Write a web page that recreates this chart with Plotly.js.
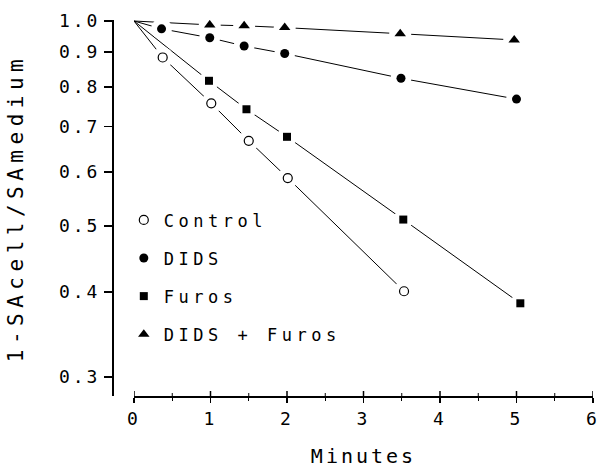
<!DOCTYPE html>
<html>
<head>
<meta charset="utf-8">
<script src="https://cdn.plot.ly/plotly-3.0.1.min.js"></script>
<style>
html,body{margin:0;padding:0;background:#fff;}
#chart{width:600px;height:471px;}
.main-svg text{letter-spacing:3px;}
.main-svg .g-ytitle text{letter-spacing:5.5px;}
.main-svg .legend text{letter-spacing:4.5px;}
.main-svg .legend .scrollbox{clip-path:none !important;}
.main-svg .legend{clip-path:none !important;}
</style>
</head>
<body>
<div id="chart"></div>
<script>
// Data
const seriesNames = ["Control", "DIDS", "Furos", "DIDS + Furos"];
const controlX = [0.375, 1.01, 1.5, 2.01, 3.53];
const controlY = [0.884, 0.757, 0.667, 0.588, 0.401];
const didsX = [0.36, 0.99, 1.44, 1.97, 3.49, 5.0];
const didsY = [0.974, 0.945, 0.919, 0.896, 0.824, 0.768];
const furosX = [0.98, 1.47, 2.0, 3.52, 5.05];
const furosY = [0.817, 0.742, 0.676, 0.511, 0.385];
const comboX = [0.99, 1.44, 1.97, 3.48, 4.97];
const comboY = [0.987, 0.984, 0.978, 0.958, 0.938];
const startX = 0;
const startY = 1.0;
const yTickVals = [0.3, 0.4, 0.5, 0.6, 0.7, 0.8, 0.9, 1.0];
const yTickText = ["0.3", "0.4", "0.5", "0.6", "0.7", "0.8", "0.9", "1.0"];
const xTickVals = [0, 1, 2, 3, 4, 5, 6];
const xTickText = ["0", "1", "2", "3", "4", "5", "6"];

const FONT = "DejaVu Sans Mono, Liberation Mono, monospace";
const series = [
  {name: seriesNames[0], x: controlX, y: controlY, symbol: "circle-open", size: 9},
  {name: seriesNames[1], x: didsX, y: didsY, symbol: "circle", size: 9},
  {name: seriesNames[2], x: furosX, y: furosY, symbol: "square", size: 8},
  {name: seriesNames[3], x: comboX, y: comboY, symbol: "triangle-up", size: 10}
];

const traces = [];
// connecting lines (from origin point)
series.forEach(s => {
  traces.push({
    type: "scatter", mode: "lines",
    x: [startX].concat(s.x), y: [startY].concat(s.y),
    line: {color: "#000", width: 1},
    showlegend: false, hoverinfo: "skip"
  });
});
// white halos to create gaps around markers
series.forEach(s => {
  traces.push({
    type: "scatter", mode: "markers",
    x: s.x, y: s.y,
    marker: {symbol: "circle", size: s.size + 12, color: "#fff", line: {width: 0}},
    showlegend: false, hoverinfo: "skip"
  });
});
// markers
series.forEach((s, i) => {
  traces.push({
    type: "scatter", mode: "markers",
    name: s.name, legendgroup: "g" + i,
    x: s.x, y: s.y,
    marker: {symbol: s.symbol, size: s.size, color: "#000",
             line: {color: "#000", width: s.symbol === "circle-open" ? 1.2 : 0}},
    showlegend: true
  });
});

// upper halves of the crossing x ticks (the axis draws the lower halves)
const shapes = [];
xTickVals.forEach((v, i) => {
  shapes.push({type: "line", xref: "x", yref: "paper", ysizemode: "pixel", yanchor: 0,
    x0: v, x1: v, y0: 0, y1: 5, line: {color: "#000", width: 1.5}});
  if (i < xTickVals.length - 1) {
    const m = (v + xTickVals[i + 1]) / 2;
    shapes.push({type: "line", xref: "x", yref: "paper", ysizemode: "pixel", yanchor: 0,
      x0: m, x1: m, y0: 0, y1: 3, line: {color: "#000", width: 1}});
  }
});

const layout = {
  width: 600, height: 471,
  margin: {l: 113, r: 7, t: 20, b: 75},
  paper_bgcolor: "#fff", plot_bgcolor: "#fff",
  showlegend: true,
  shapes: shapes,
  legend: {
    x: 0.0225, y: 0.515, xanchor: "left", yanchor: "top",
    font: {family: FONT, size: 17, color: "#000"},
    tracegroupgap: 13, itemwidth: 30,
    bgcolor: "rgba(0,0,0,0)"
  },
  xaxis: {
    domain: [0.04375, 1],
    range: [0, 6],
    tickvals: xTickVals, ticktext: xTickText,
    ticks: "outside", ticklen: 5, tickwidth: 1.5, tickcolor: "#000",
    minor: {dtick: 0.5, ticks: "outside", ticklen: 3, tickcolor: "#000", tickwidth: 1},
    showline: true, linecolor: "#000", linewidth: 2,
    showgrid: false, zeroline: false,
    tickfont: {family: FONT, size: 18, color: "#000"},
    automargin: "bottom",
    title: {text: "Minutes", font: {family: FONT, size: 20, color: "#000"}, standoff: 21},
    fixedrange: true
  },
  yaxis: {
    type: "log",
    range: [-0.5507, 0.0015],
    anchor: "free", position: 0,
    tickvals: yTickVals, ticktext: yTickText,
    ticks: "outside", ticklen: 8, tickwidth: 1.5, tickcolor: "#000",
    showline: true, linecolor: "#000", linewidth: 2,
    showgrid: false, zeroline: false,
    tickfont: {family: FONT, size: 18, color: "#000"},
    title: {text: "1-SAcell/SAmedium", font: {family: FONT, size: 21, color: "#000"}, standoff: 38},
    fixedrange: true
  }
};

Plotly.newPlot("chart", traces, layout, {displayModeBar: false, staticPlot: true});
</script>
</body>
</html>
